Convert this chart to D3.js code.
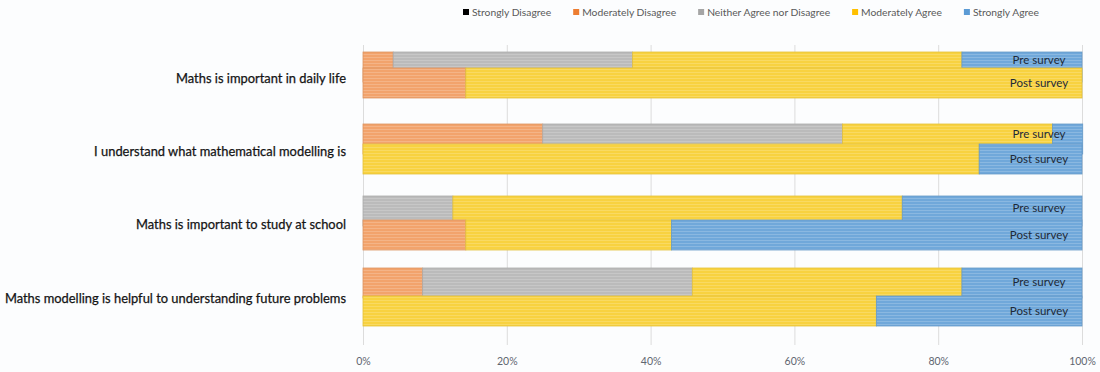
<!DOCTYPE html>
<html>
<head>
<meta charset="utf-8">
<script src="https://cdn.jsdelivr.net/npm/d3@7/dist/d3.min.js"></script>
<style>
  html, body { margin: 0; padding: 0; background: #fcfdfe; }
  svg { display: block; font-family: Lato, "Open Sans", sans-serif; }
</style>
</head>
<body>
<svg id="chart" width="1100" height="372"></svg>
<script>
// ---- data ----
const categories = [
  "Maths is important in daily life",
  "I understand what mathematical modelling is",
  "Maths is important to study at school",
  "Maths modelling is helpful to understanding future problems"
];
const responses = ["Strongly Disagree", "Moderately Disagree", "Neither Agree nor Disagree", "Moderately Agree", "Strongly Agree"];
const surveys = ["Pre survey", "Post survey"];

// Pre survey shares (%)
const preStronglyDisagree   = [0, 0, 0, 0];
const preModeratelyDisagree = [4.2, 25.0, 0, 8.3];
const preNeither            = [33.3, 41.7, 12.5, 37.5];
const preModeratelyAgree    = [45.8, 29.2, 62.5, 37.5];
const preStronglyAgree      = [16.7, 4.2, 25.0, 16.7];

// Post survey shares (%)
const postStronglyDisagree   = [0, 0, 0, 0];
const postModeratelyDisagree = [14.3, 0, 14.3, 0];
const postNeither            = [0, 0, 0, 0];
const postModeratelyAgree    = [85.7, 85.7, 28.6, 71.4];
const postStronglyAgree      = [0, 14.3, 57.1, 28.6];

const axisTicks = [0, 20, 40, 60, 80, 100];

// ---- styles ----
const legendColors = ["#000000", "#ED7D31", "#A5A5A5", "#FFC000", "#5B9BD5"];
const barColors    = ["#222222", "#F2A36C", "#BBBBBB", "#F8D240", "#70A8DA"];

function rows(sd, md, ne, ma, sa) {
  return categories.map((c, i) => ({
    category: c,
    [responses[0]]: sd[i], [responses[1]]: md[i], [responses[2]]: ne[i],
    [responses[3]]: ma[i], [responses[4]]: sa[i]
  }));
}
const preRows  = rows(preStronglyDisagree, preModeratelyDisagree, preNeither, preModeratelyAgree, preStronglyAgree);
const postRows = rows(postStronglyDisagree, postModeratelyDisagree, postNeither, postModeratelyAgree, postStronglyAgree);

const svg = d3.select("#chart");

// patterns (horizontal stripe texture)
const defs = svg.append("defs");
barColors.forEach((c, i) => {
  const p = defs.append("pattern").attr("id", "pat" + i)
    .attr("patternUnits", "userSpaceOnUse").attr("width", 6).attr("height", 3);
  p.append("rect").attr("width", 6).attr("height", 3).attr("fill", c);
  p.append("rect").attr("y", 0).attr("width", 6).attr("height", 1)
    .attr("fill", "#ffffff").attr("opacity", 0.18);
});

const x = d3.scaleLinear().domain([0, 100]).range([363, 1082]);
const yPre = d3.scaleBand().domain(categories).range([52, 298]).paddingInner(0.5833).paddingOuter(0);
const yPost = d3.scaleBand().domain(categories).range([68, 326]).paddingInner(0.6053).paddingOuter(0);
const yLabel = d3.scalePoint().domain(categories).range([78, 298]);

const gridTop = 45, gridBottom = 345;

// gridlines
svg.append("g")
  .attr("transform", `translate(0,${gridBottom})`)
  .call(d3.axisBottom(x).tickValues(axisTicks).tickSize(-(gridBottom - gridTop)).tickFormat(""))
  .call(g => g.select(".domain").remove())
  .call(g => g.selectAll("line").attr("stroke", "#dcdcdc").attr("stroke-width", 1));

// axis labels
svg.append("g")
  .attr("transform", `translate(0,355)`)
  .call(d3.axisBottom(x).tickValues(axisTicks).tickSize(0).tickFormat(d => d + "%"))
  .call(g => g.select(".domain").remove())
  .call(g => g.selectAll("text").attr("fill", "#5f6670").attr("font-size", "10.5px")
     .attr("font-family", "Lato, 'Open Sans', sans-serif"));

const stack = d3.stack().keys(responses);

function drawBars(data, yScale, cls) {
  const series = stack(data);
  const g = svg.append("g").attr("class", cls);
  series.forEach((s, si) => {
    g.selectAll(null).data(s.filter(d => d[1] - d[0] > 0)).join("rect")
      .attr("x", d => x(d[0]))
      .attr("width", d => x(d[1]) - x(d[0]))
      .attr("y", d => yScale(d.data.category))
      .attr("height", yScale.bandwidth())
      .attr("fill", `url(#pat${si})`)
      .attr("stroke", d3.color(barColors[si]).darker(0.25))
      .attr("stroke-width", 0.8);
  });
}
drawBars(preRows, yPre, "pre");
drawBars(postRows, yPost, "post");

// survey labels
const labelX = x(100) - 43;
svg.append("g").selectAll("text").data(categories).join("text")
  .attr("x", labelX)
  .attr("y", c => (yPre(c) + yPost(c)) / 2)
  .attr("dy", "0.35em")
  .attr("text-anchor", "middle")
  .attr("font-size", "11.5px")
  .attr("fill", "#1e2a38")
  .text(surveys[0]);
svg.append("g").selectAll("text").data(categories).join("text")
  .attr("x", labelX)
  .attr("y", c => yPost(c) + yPost.bandwidth() / 2)
  .attr("dy", "0.35em")
  .attr("text-anchor", "middle")
  .attr("font-size", "11.5px")
  .attr("fill", "#1e2a38")
  .text(surveys[1]);

// category labels
svg.append("g").selectAll("text").data(categories).join("text")
  .attr("x", 346)
  .attr("y", c => yLabel(c))
  .attr("dy", "0.35em")
  .attr("text-anchor", "end")
  .attr("font-size", "12.9px")
  .attr("fill", "#141414")
  .style("paint-order", "stroke")
  .attr("stroke", "#141414").attr("stroke-width", 0.25)
  .text(c => c);

// legend
const legend = svg.append("g");
let lx = 463;
responses.forEach((r, i) => {
  const g = legend.append("g");
  g.append("rect").attr("x", lx).attr("y", 9).attr("width", 6).attr("height", 6).attr("fill", legendColors[i]);
  const t = g.append("text").attr("x", lx + 9).attr("y", 12).attr("dy", "0.35em")
    .attr("font-size", "10.3px").attr("fill", "#595959").text(r);
  lx += 9 + t.node().getComputedTextLength() + 22;
});
</script>
</body>
</html>
